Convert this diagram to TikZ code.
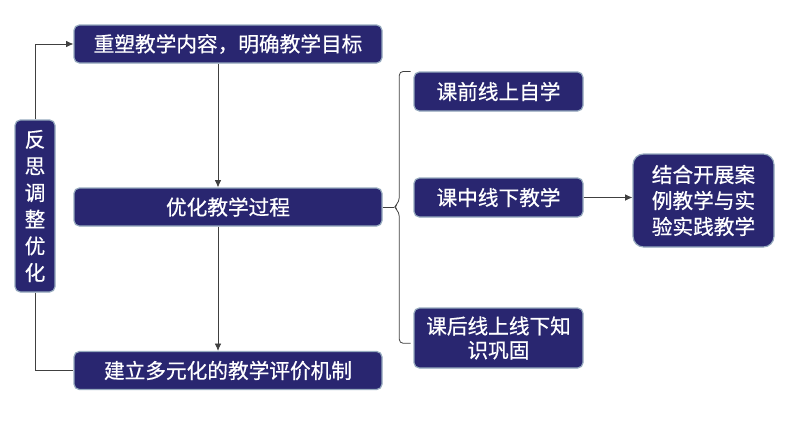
\documentclass[tikz,border=0pt]{standalone}
\usepackage{fontspec}
\newfontfamily\cjk[FakeBold=0.6]{Noto Sans CJK SC}
\usetikzlibrary{arrows.meta}

\begin{document}
\begin{tikzpicture}[
  x=0.75pt,y=-0.75pt,
  font=\cjk\fontsize{15.5}{19}\selectfont,
  >={Latex[length=5.5pt,width=5pt]},
  box/.style={rounded corners=4pt, draw={rgb,255:red,150;green,170;blue,190}, line width=0.9pt,
              fill={rgb,255:red,41;green,38;blue,112}, text=white, align=center, inner sep=2pt},
  wide/.style={box, minimum width=231pt, minimum height=28.5pt},
  side/.style={box, minimum width=126.75pt, minimum height=29.25pt},
  link/.style={draw=black!75, line width=0.6pt}
]
  \useasboundingbox (0,0) rectangle (785,422);

  % left column
  \node[wide] (reshape) at (228,44) {重塑教学内容，明确教学目标};
  \node[wide] (optim) at (228,207) {优化教学过程};
  \node[wide] (evalm) at (228,370.5) {建立多元化的教学评价机制};
  \node[box, minimum width=30pt, minimum height=129pt, font=\cjk\fontsize{15.5}{20}\selectfont] (reflect) at (35,206)
    {反\\思\\调\\整\\优\\化};

  % right column
  \node[side] (pre) at (498.5,91.5) {课前线上自学};
  \node[side] (mid) at (498.5,197.5) {课中线下教学};
  \node[side, minimum height=45pt, font=\cjk\fontsize{15.5}{18}\selectfont] (post) at (498.5,338) {课后线上线下知\\识巩固};
  \node[box, rounded corners=8pt, minimum width=105.75pt, minimum height=69.75pt,
        font=\cjk\fontsize{15.5}{19.5}\selectfont] (cases) at (703.5,200.5)
    {结合开展案\\例教学与实\\验实践教学};

  \draw[link, ->] (reflect.north) |- (reshape.west);
  \draw[link] (reflect.south) |- (evalm.west);
  \draw[link, ->] ([xshift=-7.5pt]reshape.south) -- ([xshift=-7.5pt]optim.north);
  \draw[link, ->] ([xshift=-7.5pt]optim.south) -- ([xshift=-7.5pt]evalm.north);

  % brace to the three stages
  \coordinate (cusp) at ([xshift=8.5pt]optim.east);
  \coordinate (btop) at ([xshift=-2pt]pre.north west);
  \coordinate (bbot) at ([xshift=-2pt,yshift=-4pt]post.west);
  \draw[link] (optim.east) -- (cusp);
  \draw[link, rounded corners=3pt] (btop) -| ([xshift=4pt,yshift=4pt]cusp) -- (cusp)
    -- ([xshift=4pt,yshift=-4pt]cusp) |- (bbot);

  \draw[link, ->] (mid.east) -- (mid.east -| cases.west);
\end{tikzpicture}
\end{document}
